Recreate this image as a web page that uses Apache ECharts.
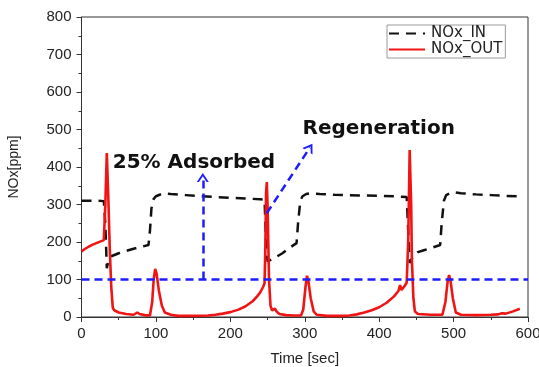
<!DOCTYPE html>
<html>
<head>
<meta charset="utf-8">
<script src="https://cdn.jsdelivr.net/npm/echarts@6/dist/echarts.min.js"></script>
<style>
  html, body { margin: 0; padding: 0; background: #fff; }
  #chart { width: 539px; height: 367px; }
</style>
</head>
<body>
<div id="chart"></div>
<script>
// Inlet NOx concentration (ppm) over time (sec)
const inTime = [0, 10, 20, 30, 32, 34, 36, 40, 50, 60, 70, 80, 90, 92, 94, 97, 100, 105, 110, 120, 140, 160, 180, 200, 220, 240, 246, 248, 250, 252, 260, 270, 280, 289, 291, 294, 297, 302, 307, 320, 340, 360, 380, 400, 420, 437, 439, 441, 445, 452, 460, 470, 482, 484, 487, 490, 498, 510, 530, 550, 570, 590];
const inValue = [310, 310, 310, 309, 250, 130, 150, 162, 170, 176, 182, 187, 192, 230, 290, 315, 322, 326, 330, 328, 325, 322, 320, 318, 316, 314, 313, 200, 148, 150, 158, 170, 185, 197, 250, 310, 322, 328, 330, 328, 326, 325, 324, 323, 322, 320, 230, 144, 160, 173, 178, 184, 192, 250, 310, 325, 333, 330, 327, 325, 323, 322];

// Outlet NOx concentration (ppm) over time (sec)
const outTime = [0, 5, 10, 15, 20, 25, 30, 32, 34, 36, 38, 40, 42, 44, 50, 60, 70, 75, 78, 85, 92, 95, 97, 99, 101, 104, 108, 112, 120, 130, 150, 170, 180, 190, 200, 210, 220, 230, 236, 240, 244, 246, 247, 248, 249, 250, 251, 252, 254, 256, 258, 260, 262, 266, 275, 285, 295, 298, 301, 303, 305, 308, 312, 316, 330, 350, 360, 370, 380, 390, 400, 410, 420, 426, 428, 430, 434, 437, 439, 441, 442, 443, 444, 446, 448, 452, 470, 485, 489, 492, 494, 496, 499, 503, 510, 530, 550, 560, 565, 570, 580, 589];
const outValue = [175, 182, 188, 193, 197, 201, 205, 300, 437, 320, 180, 80, 25, 18, 12, 8, 6, 12, 8, 5, 4, 40, 100, 128, 115, 70, 30, 12, 6, 3, 3, 4, 6, 9, 13, 19, 28, 42, 55, 65, 80, 90, 180, 330, 360, 300, 200, 100, 30, 18, 15, 22, 15, 8, 5, 4, 4, 20, 80, 110, 95, 50, 15, 6, 3, 3, 4, 7, 12, 18, 26, 38, 55, 70, 85, 72, 82, 92, 200, 445, 440, 300, 150, 50, 15, 8, 6, 6, 40, 95, 112, 95, 50, 12, 6, 5, 6, 7, 10, 9, 15, 22];

// Axis ticks
const xTicks = [0, 100, 200, 300, 400, 500, 600];
const yTicks = [0, 100, 200, 300, 400, 500, 600, 700, 800];

// Reference level and annotation arrows (time, ppm)
const thresholdLevel = 100;
const adsorbedArrow = [[163, 100], [163, 372]];
const regenArrow = [[249, 277], [307, 452]];
const annotations = [
  { text: '25% Adsorbed', at: [42, 411] },
  { text: 'Regeneration', at: [297, 503] }
];

const chevron = 'path://M0,10 L5,0 L10,10 L8.2,10 L5,3.6 L1.8,10 Z';
const blue = '#1c1cff';
const sans = 'Liberation Sans, Arial, sans-serif';

const pair = (ts, vs) => ts.map((t, i) => [t, vs[i]]);

const chart = echarts.init(document.getElementById('chart'), null, { renderer: 'canvas' });

const axisFont = { fontFamily: sans, fontSize: 15, color: '#222' };

chart.setOption({
  backgroundColor: '#fff',
  animation: false,
  grid: {
    left: 81.5, right: 11, top: 17, bottom: 50,
    containLabel: false,
    outerBoundsMode: 'none',
    show: true, borderColor: '#333', borderWidth: 1, backgroundColor: 'transparent'
  },
  legend: {
    data: ['NOx_IN', 'NOx_OUT'],
    orient: 'vertical',
    left: 387, top: 25,
    padding: [1, 3, 1, 1],
    itemGap: 1,
    itemWidth: 36,
    itemHeight: 14,
    itemStyle: { opacity: 0 },
    borderColor: '#9a9a9a', borderWidth: 1, backgroundColor: '#fff',
    textStyle: { fontFamily: 'DejaVu Sans, sans-serif', fontSize: 15, color: '#222', padding: [0, 0, 0, 1] }
  },
  xAxis: {
    type: 'value',
    min: xTicks[0], max: xTicks[xTicks.length - 1], interval: 100,
    name: 'Time [sec]', nameLocation: 'middle', nameGap: 34,
    nameTextStyle: { fontFamily: sans, fontSize: 15, color: '#222' },
    axisLine: { lineStyle: { color: '#333', width: 1 } },
    axisTick: { show: true, length: 5, lineStyle: { color: '#333' } },
    minorTick: { show: true, splitNumber: 2, length: 3, lineStyle: { color: '#333' } },
    splitLine: { show: false },
    axisLabel: Object.assign({ margin: 9 }, axisFont)
  },
  yAxis: {
    type: 'value',
    min: yTicks[0], max: yTicks[yTicks.length - 1], interval: 100,
    name: 'NOx[ppm]', nameLocation: 'middle', nameGap: 60,
    nameTextStyle: { fontFamily: sans, fontSize: 14, color: '#222' },
    axisLine: { show: true, lineStyle: { color: '#333', width: 1 } },
    axisTick: { show: true, length: 5, lineStyle: { color: '#333' } },
    minorTick: { show: true, splitNumber: 2, length: 3, lineStyle: { color: '#333' } },
    splitLine: { show: false },
    axisLabel: Object.assign({ margin: 10 }, axisFont)
  },
  series: [
    {
      name: 'NOx_IN',
      type: 'line',
      data: pair(inTime, inValue),
      symbol: 'none',
      color: '#111',
      lineStyle: { color: '#111', width: 2.5, type: [10, 7] },
      z: 3
    },
    {
      name: 'NOx_OUT',
      type: 'line',
      data: pair(outTime, outValue),
      symbol: 'none',
      color: '#f01414',
      lineStyle: { color: '#f01414', width: 2.6 },
      z: 4,
      markLine: {
        silent: true,
        animation: false,
        label: { show: false },
        lineStyle: { color: blue, width: 2.5, type: [8, 5] },
        data: [
          [{ coord: [xTicks[0], thresholdLevel], symbol: 'none' },
           { coord: [xTicks[xTicks.length - 1], thresholdLevel], symbol: 'none' }],
          [{ coord: adsorbedArrow[0], symbol: 'none' },
           { coord: adsorbedArrow[1], symbol: chevron, symbolSize: [12, 9] }],
          [{ coord: regenArrow[0], symbol: 'none' },
           { coord: regenArrow[1], symbol: chevron, symbolSize: [12, 9] }]
        ]
      },
      markPoint: {
        silent: true,
        symbol: 'circle',
        symbolSize: 0,
        label: {
          show: true,
          position: 'right',
          distance: 0,
          fontFamily: 'DejaVu Sans, sans-serif',
          fontWeight: 'bold',
          fontSize: 20,
          color: '#111',
          formatter: p => p.name
        },
        data: annotations.map(a => ({ name: a.text, coord: a.at }))
      }
    }
  ]
});
</script>
</body>
</html>
